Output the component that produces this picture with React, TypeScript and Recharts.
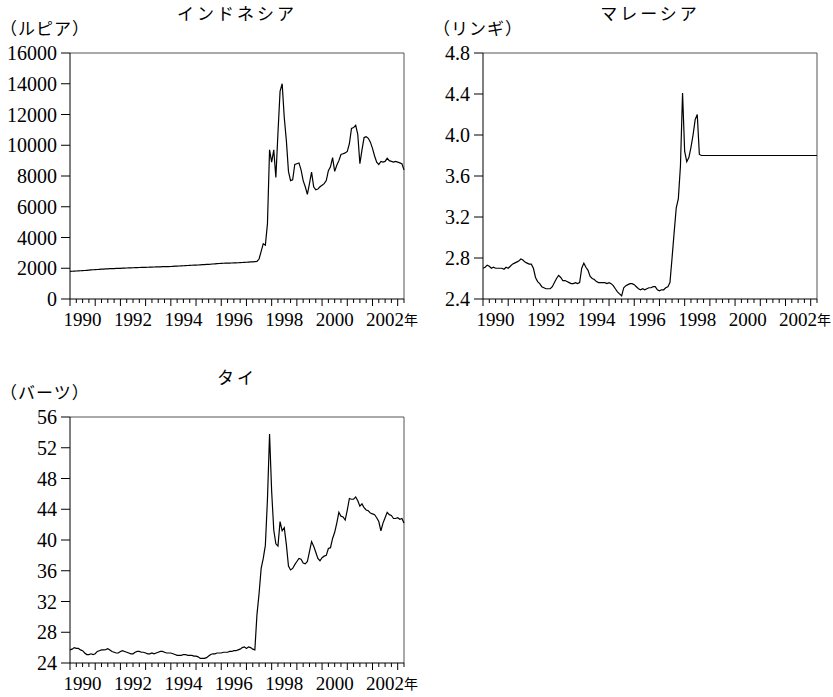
import { LineChart, Line, XAxis, YAxis, ReferenceLine } from "recharts";

// monthly rates, 1990:01 - 2003:04 (160 obs)
const idr = [
  1797, 1805, 1813, 1821, 1830, 1838, 1846, 1855, 1866, 1877, 1888, 1901,
  1911, 1920, 1929, 1938, 1947, 1955, 1964, 1972, 1977, 1982, 1987, 1992,
  1997, 2003, 2009, 2015, 2021, 2027, 2033, 2039, 2045, 2050, 2056, 2062,
  2063, 2065, 2068, 2073, 2080, 2087, 2090, 2095, 2100, 2103, 2107, 2110,
  2115, 2125, 2133, 2140, 2148, 2157, 2164, 2172, 2180, 2188, 2194, 2200,
  2205, 2212, 2220, 2230, 2240, 2250, 2258, 2265, 2275, 2285, 2295, 2308,
  2316, 2326, 2337, 2340, 2335, 2340, 2345, 2350, 2358, 2365, 2375, 2383,
  2390, 2400, 2410, 2420, 2435, 2440, 2600, 3100, 3600, 3500, 4900, 9700,
  8900, 9700, 7900, 10800, 13500, 14000, 11800, 10300, 8300, 7700, 7750, 8750,
  8800, 8850, 8400, 7700, 7300, 6800, 7500, 8250, 7300, 7100, 7150, 7300,
  7400, 7500, 7700, 8350, 8600, 9200, 8300, 8700, 9000, 9400, 9450, 9500,
  9600, 10100, 11100, 11150, 11300, 10700, 8800, 9700, 10500, 10550, 10450, 10200,
  9800, 9300, 8900, 8750, 8950, 8900, 8950, 9150, 9000, 8950, 8900, 8950,
  8900, 8850, 8800, 8400,
];

const myr = [
  2.70, 2.71, 2.73, 2.72, 2.70, 2.71, 2.70, 2.70, 2.70, 2.70, 2.69, 2.71,
  2.70, 2.72, 2.74, 2.75, 2.76, 2.77, 2.79, 2.78, 2.76, 2.75, 2.74, 2.74,
  2.70, 2.61, 2.57, 2.55, 2.52, 2.51, 2.50, 2.50, 2.50, 2.52, 2.56, 2.60,
  2.63, 2.61, 2.58, 2.58, 2.57, 2.56, 2.55, 2.55, 2.56, 2.55, 2.56, 2.70,
  2.75, 2.71, 2.68, 2.62, 2.60, 2.59, 2.57, 2.56, 2.56, 2.56, 2.56, 2.55,
  2.56, 2.55, 2.53, 2.50, 2.47, 2.45, 2.43, 2.51, 2.53, 2.54, 2.55, 2.55,
  2.54, 2.52, 2.50, 2.49, 2.50, 2.49, 2.50, 2.51, 2.51, 2.52, 2.52, 2.49,
  2.48, 2.49, 2.49, 2.51, 2.52, 2.56, 2.80, 3.05, 3.29, 3.38, 3.70, 4.41,
  3.84, 3.74, 3.78, 3.88, 4.00, 4.15, 4.20, 3.81, 3.80, 3.80, 3.80, 3.80,
  3.80, 3.80, 3.80, 3.80, 3.80, 3.80, 3.80, 3.80, 3.80, 3.80, 3.80, 3.80,
  3.80, 3.80, 3.80, 3.80, 3.80, 3.80, 3.80, 3.80, 3.80, 3.80, 3.80, 3.80,
  3.80, 3.80, 3.80, 3.80, 3.80, 3.80, 3.80, 3.80, 3.80, 3.80, 3.80, 3.80,
  3.80, 3.80, 3.80, 3.80, 3.80, 3.80, 3.80, 3.80, 3.80, 3.80, 3.80, 3.80,
  3.80, 3.80, 3.80, 3.80,
];

const thb = [
  25.7, 25.8, 26.0, 25.9, 25.9, 25.7, 25.6, 25.3, 25.1, 25.1, 25.2, 25.1,
  25.2, 25.5, 25.6, 25.7, 25.7, 25.75, 25.85, 25.7, 25.5, 25.4, 25.3, 25.3,
  25.5, 25.6, 25.5, 25.4, 25.3, 25.2, 25.2, 25.4, 25.5, 25.5, 25.4, 25.4,
  25.3, 25.2, 25.2, 25.3, 25.2, 25.3, 25.4, 25.5, 25.5, 25.4, 25.3, 25.3,
  25.3, 25.2, 25.1, 25.0, 25.0, 25.0, 25.1, 25.1, 25.0, 25.0, 25.0, 24.9,
  24.9, 24.8, 24.6, 24.6, 24.6, 24.7, 24.9, 25.1, 25.2, 25.2, 25.3, 25.3,
  25.3, 25.4, 25.4, 25.4, 25.5, 25.5, 25.6, 25.6, 25.7, 25.8, 26.0, 26.1,
  25.9, 26.1, 26.0, 25.8, 25.7, 30.3, 33.0, 36.3, 37.6, 39.3, 45.3, 53.8,
  46.3, 41.3, 39.5, 39.2, 42.4, 41.2, 41.6, 39.4, 36.6, 36.1, 36.3, 36.8,
  37.2, 37.6, 37.5, 37.0, 36.9, 37.2, 38.5, 39.8, 39.2, 38.4, 37.6, 37.3,
  37.7, 37.9, 38.0, 38.9, 39.0, 40.2, 41.0, 42.2, 43.6, 43.1, 43.0, 42.6,
  43.9, 45.4, 45.3, 45.3, 45.6, 45.1, 44.4, 44.7, 44.2, 43.9, 43.8, 43.5,
  43.4, 43.3, 42.9, 42.4, 41.2, 42.2, 42.9, 43.6, 43.3, 43.2, 42.8, 42.8,
  42.9, 42.7, 42.8, 42.2,
];

const yearLabels = ["1990", "1992", "1994", "1996", "1998", "2000", "2002"];
const idrTicks = [0, 2000, 4000, 6000, 8000, 10000, 12000, 14000, 16000];
const myrTicks = [2.4, 2.8, 3.2, 3.6, 4.0, 4.4, 4.8];
const thbTicks = [24, 28, 32, 36, 40, 44, 48, 52, 56];

// quarterly tick positions (index of month)
const quarterTicks = idr.map((_, i) => i).filter((i) => i % 3 === 0);

const serif = "Liberation Serif, Times New Roman, DejaVu Serif, serif";
const jp = "Noto Sans CJK JP, sans-serif";

function MonthTick(props: any) {
  const { x, y, payload } = props;
  const t = payload.value;
  const major = t % 12 === 0;
  const k = (t - 6) / 24;
  const label = Number.isInteger(k) ? yearLabels[k] : null;
  const last = k === yearLabels.length - 1;
  return (
    <g>
      <line x1={x} y1={y} x2={x} y2={y + (major ? 7 : 4)} stroke="#000" strokeWidth={1} />
      {label && (
        <text x={x} y={y + 27} textAnchor="middle" style={{ fontSize: 19, fontFamily: serif }} fill="#000">
          {label}
        </text>
      )}
      {last && (
        <text x={x + 19} y={y + 26} textAnchor="start" style={{ fontSize: 14, fontFamily: jp }} fill="#000">
          年
        </text>
      )}
    </g>
  );
}

function Panel(props: any) {
  const { values, ticks, fmt, left, top, height, marginTop, title, unit, unitLeft } = props;
  const data = values.map((v: number, i: number) => ({ t: i, v }));
  const lo = ticks[0];
  const hi = ticks[ticks.length - 1];
  const plotLeft = 70;
  const plotRight = 420 - 16;
  return (
    <div style={{ position: "absolute", left, top, width: 420, height }}>
      <div
        style={{
          position: "absolute",
          left: (plotLeft + plotRight) / 2,
          top: marginTop - 41,
          transform: "translate(-50%, -50%)",
          fontFamily: jp,
          fontSize: 17,
          letterSpacing: 3,
          whiteSpace: "nowrap",
          lineHeight: 1,
        }}
      >
        {title}
      </div>
      <div
        style={{
          position: "absolute",
          left: unitLeft,
          top: marginTop - 26,
          transform: "translateY(-50%)",
          fontFamily: jp,
          fontSize: 17,
          letterSpacing: 1,
          whiteSpace: "nowrap",
          lineHeight: 1,
        }}
      >
        {unit}
      </div>
      <LineChart
        width={420}
        height={height}
        data={data}
        margin={{ top: marginTop, right: 16, bottom: height - marginTop - 246 - 30, left: 0 }}
      >
        <XAxis
          dataKey="t"
          type="number"
          domain={[0, values.length - 1]}
          ticks={quarterTicks}
          interval={0}
          tick={<MonthTick />}
          tickLine={false}
          tickSize={0}
          tickMargin={0}
          axisLine={{ stroke: "#000", strokeWidth: 1 }}
          height={30}
        />
        <YAxis
          type="number"
          domain={[lo, hi]}
          ticks={ticks}
          interval={0}
          width={plotLeft}
          tickSize={9}
          tickMargin={4}
          tickFormatter={fmt}
          axisLine={{ stroke: "#000", strokeWidth: 1 }}
          tickLine={{ stroke: "#000", strokeWidth: 1 }}
          tick={{ fill: "#000", fontSize: 20, style: { fontFamily: serif } }}
        />
        <ReferenceLine y={hi} stroke="#555" strokeWidth={1} />
        <ReferenceLine x={values.length - 1} stroke="#555" strokeWidth={1} />
        <Line
          type="linear"
          dataKey="v"
          stroke="#000"
          strokeWidth={1.2}
          dot={false}
          isAnimationActive={false}
        />
      </LineChart>
    </div>
  );
}

export default function App() {
  return (
    <div style={{ position: "absolute", left: 0, top: 0, width: 833, height: 697, background: "#fff" }}>
      <style>{"svg { overflow: visible; } .recharts-wrapper { overflow: visible; }"}</style>
      <Panel
        values={idr}
        ticks={idrTicks}
        fmt={(v: number) => String(v)}
        left={0}
        top={0}
        height={340}
        marginTop={53}
        title="インドネシア"
        unit="（ルピア）"
        unitLeft={0}
      />
      <Panel
        values={myr}
        ticks={myrTicks}
        fmt={(v: number) => v.toFixed(1)}
        left={413}
        top={0}
        height={340}
        marginTop={53}
        title="マレーシア"
        unit="（リンギ）"
        unitLeft={20}
      />
      <Panel
        values={thb}
        ticks={thbTicks}
        fmt={(v: number) => String(v)}
        left={0}
        top={360}
        height={337}
        marginTop={57}
        title="タイ"
        unit="（バーツ）"
        unitLeft={0}
      />
    </div>
  );
}
